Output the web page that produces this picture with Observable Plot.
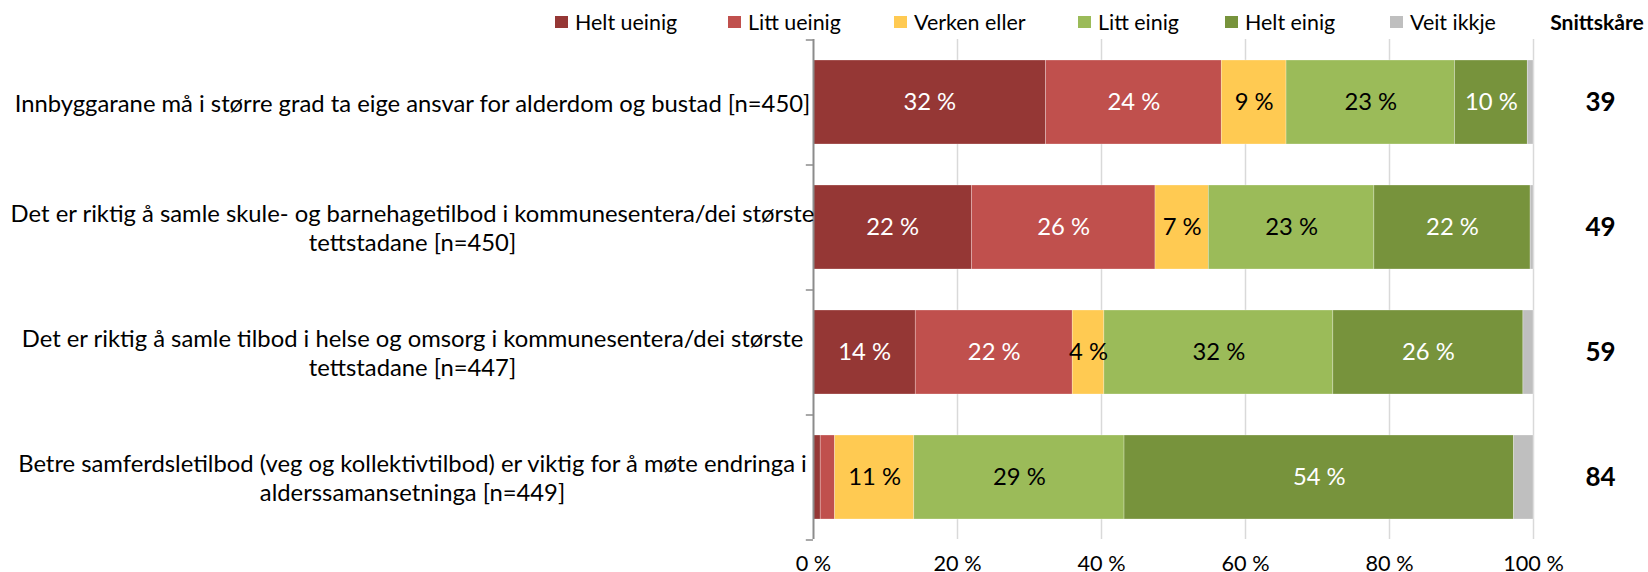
<!DOCTYPE html>
<html>
<head>
<meta charset="utf-8">
<script src="https://cdn.jsdelivr.net/npm/d3@7"></script>
<script src="https://cdn.jsdelivr.net/npm/@observablehq/plot@0.6"></script>
<style>
  body { margin: 0; background: #fff; }
  #wrap { position: relative; width: 1648px; height: 572px; overflow: hidden; font-family: Lato, sans-serif; color: #000; }
  .sw { position: absolute; width: 13px; height: 12px; top: 16px; }
  .lt { position: absolute; top: 0; height: 44px; line-height: 44px; white-space: nowrap; }
  #head { position: absolute; top: 0; height: 44px; line-height: 44px; font-weight: bold; width: 200px; text-align: center; left: 1497px; white-space: nowrap; }
  #chart { position: absolute; left: 0; top: 0; }
</style>
</head>
<body>
<div id="wrap">
  <div id="chart"></div>
  <div id="legend"></div>
  <div id="head"></div>
</div>
<script>
// ---- data ----
const categories = [
  "Innbyggarane må i større grad ta eige ansvar for alderdom og bustad [n=450]",
  "Det er riktig å samle skule- og barnehagetilbod i kommunesentera/dei største\ntettstadane [n=450]",
  "Det er riktig å samle tilbod i helse og omsorg i kommunesentera/dei største\ntettstadane [n=447]",
  "Betre samferdsletilbod (veg og kollektivtilbod) er viktig for å møte endringa i\nalderssamansetninga [n=449]"
];
const series = ["Helt ueinig", "Litt ueinig", "Verken eller", "Litt einig", "Helt einig", "Veit ikkje"];
const heltUeinig  = [32.3, 22.0, 14.2, 1.0];
const littUeinig  = [24.4, 25.5, 21.8, 2.0];
const verkenEller = [9.0, 7.4, 4.4, 11.0];
const littEinig   = [23.4, 23.0, 31.8, 29.2];
const heltEinig   = [10.1, 21.7, 26.4, 54.1];
const veitIkkje   = [0.8, 0.4, 1.4, 2.7];
const scores = [39, 49, 59, 84];
const scoreTitle = "Snittskåre";
const xTicks = [0, 20, 40, 60, 80, 100];
const colors = ["#953735", "#C0504D", "#FFCA52", "#9BBB59", "#77933C", "#BFBFBF"];
const whiteText = new Set(["Helt ueinig", "Litt ueinig", "Helt einig"]);

const seriesValues = [heltUeinig, littUeinig, verkenEller, littEinig, heltEinig, veitIkkje];
const rows = categories.flatMap((c, i) => series.map((s, j) => ({cat: c, series: s, value: seriesValues[j][i]})));

// ---- font fitting (match original Calibri metrics with Lato) ----
const ctx = document.createElement("canvas").getContext("2d");
ctx.font = "22px Lato";
const q = 805 / ctx.measureText(categories[1].split("\n")[0]).width;
const fsLabel = 22 * q, fsBar = 22 * q, fsTick = 20 * q, fsScore = 24 * q, fsHead = 19.5 * q, fsLegend = 19.8 * q;

// ---- layout ----
const W = 1648, H = 572, mT = 39, mB = 33, mL = 813, mR = 115;
const step = (H - mT - mB) / categories.length;

const barText = (white) => (d) => (whiteText.has(d.series) === white && d.value >= 3.5) ? Math.round(d.value) + "\u00a0%" : "";

const chart = Plot.plot({
  width: W, height: H,
  marginTop: mT, marginBottom: mB, marginLeft: mL, marginRight: mR,
  style: {fontFamily: "Lato, sans-serif", fontSize: fsTick + "px", color: "#000", background: "transparent", overflow: "visible"},
  x: {domain: [0, 100], axis: null},
  y: {domain: categories, axis: null, paddingInner: 0.33, paddingOuter: 0.165},
  color: {domain: series, range: colors},
  marks: [
    Plot.ruleX(xTicks.filter(d => d > 0), {stroke: "#D9D9D9", strokeWidth: 1.5}),
    Plot.barX(rows, Plot.stackX({x: "value", y: "cat", fill: "series", z: "series", order: series,
      stroke: "#ffffff", strokeWidth: 0.6, strokeOpacity: 0.45})),
    Plot.ruleX([0], {stroke: "#8C8C8C", strokeWidth: 2}),
    Plot.ruleY(categories, {y: d => d, x1: () => -1, x2: () => 0, dy: -step / 2, stroke: "#8C8C8C", strokeWidth: 1.5}),
    Plot.ruleY(categories.slice(-1), {y: d => d, x1: () => -1, x2: () => 0, dy: step / 2, stroke: "#8C8C8C", strokeWidth: 1.5}),
    Plot.text(rows, Plot.stackX({x: "value", y: "cat", z: "series", order: series, text: barText(true), fill: "#ffffff", fontSize: fsBar})),
    Plot.text(rows, Plot.stackX({x: "value", y: "cat", z: "series", order: series, text: barText(false), fill: "#000000", fontSize: fsBar})),
    Plot.text(categories, {y: d => d, text: d => d, frameAnchor: "left", dx: -401, textAnchor: "middle",
      lineAnchor: "middle", lineHeight: 28.5 / fsLabel, fontSize: fsLabel, fill: "#000"}),
    Plot.text(scores, {y: (d, i) => categories[i], text: d => String(d), frameAnchor: "right", dx: 82,
      fontWeight: "bold", fontSize: fsScore, fill: "#000"}),
    Plot.axisX({ticks: xTicks, tickFormat: d => d + "\u00a0%", tickSize: 0, tickPadding: 16, label: null, fontSize: fsTick, fill: "#000"})
  ]
});
document.getElementById("chart").appendChild(chart);

// ---- legend (positions follow the original layout) ----
const legendX = [555, 728, 894, 1078, 1225, 1390];
const legend = document.getElementById("legend");
series.forEach((s, i) => {
  const sw = document.createElement("span");
  sw.className = "sw";
  sw.style.left = legendX[i] + "px";
  sw.style.background = colors[i];
  const tx = document.createElement("span");
  tx.className = "lt";
  tx.style.left = (legendX[i] + 20) + "px";
  tx.style.fontSize = fsLegend + "px";
  tx.textContent = s;
  legend.appendChild(sw); legend.appendChild(tx);
});
const head = document.getElementById("head");
head.textContent = scoreTitle;
head.style.fontSize = fsHead + "px";
</script>
</body>
</html>
